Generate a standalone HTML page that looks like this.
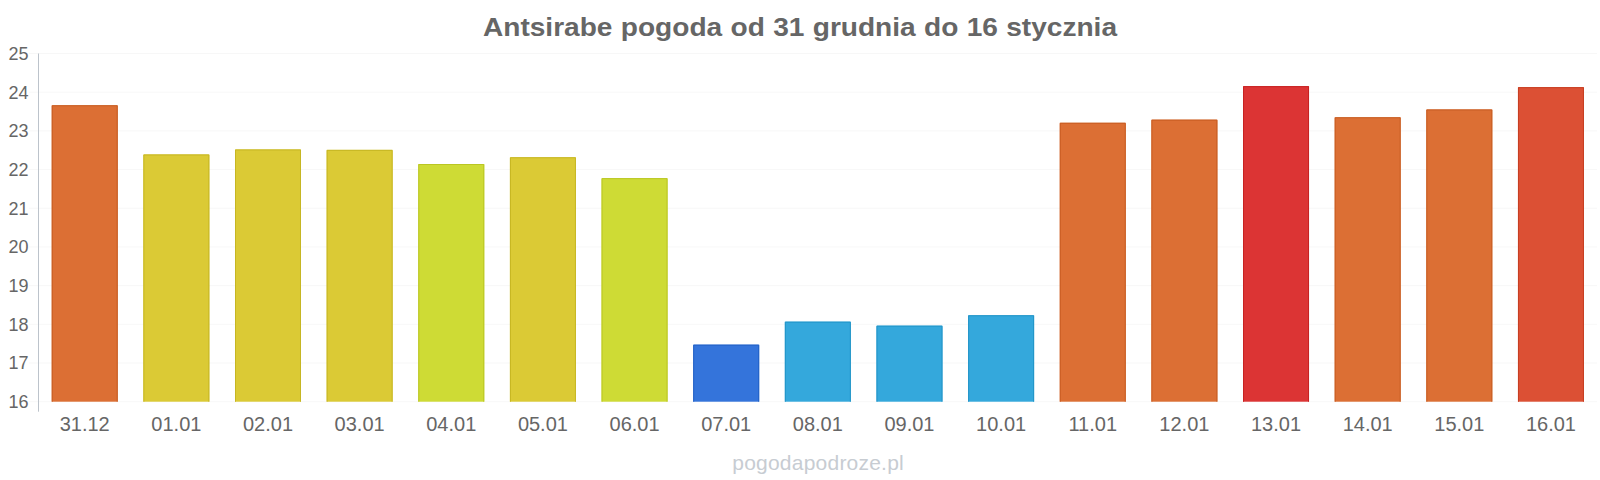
<!DOCTYPE html>
<html><head><meta charset="utf-8"><title>Antsirabe pogoda</title>
<style>
html,body{margin:0;padding:0;background:#fff;}
body{width:1600px;height:480px;overflow:hidden;}
svg{display:block;}
text{font-family:"Liberation Sans",Arial,sans-serif;}
</style></head><body>
<svg width="1600" height="480" viewBox="0 0 1600 480">
<rect width="1600" height="480" fill="#ffffff"/>
<text transform="translate(800 36.2) scale(1.06 1)" x="0" y="0" text-anchor="middle" font-size="26.5" font-weight="bold" fill="#666666" word-spacing="0.5">Antsirabe pogoda od 31 grudnia do 16 stycznia</text>
<line x1="29.5" x2="1597.0" y1="53.50" y2="53.50" stroke="#efefef" stroke-width="1" stroke-dasharray="1,1"/>
<text x="28.6" y="59.90" text-anchor="end" font-size="18" fill="#666666">25</text>
<line x1="29.5" x2="1597.0" y1="92.19" y2="92.19" stroke="#efefef" stroke-width="1" stroke-dasharray="1,1"/>
<text x="28.6" y="98.59" text-anchor="end" font-size="18" fill="#666666">24</text>
<line x1="29.5" x2="1597.0" y1="130.88" y2="130.88" stroke="#efefef" stroke-width="1" stroke-dasharray="1,1"/>
<text x="28.6" y="137.28" text-anchor="end" font-size="18" fill="#666666">23</text>
<line x1="29.5" x2="1597.0" y1="169.57" y2="169.57" stroke="#efefef" stroke-width="1" stroke-dasharray="1,1"/>
<text x="28.6" y="175.97" text-anchor="end" font-size="18" fill="#666666">22</text>
<line x1="29.5" x2="1597.0" y1="208.26" y2="208.26" stroke="#efefef" stroke-width="1" stroke-dasharray="1,1"/>
<text x="28.6" y="214.66" text-anchor="end" font-size="18" fill="#666666">21</text>
<line x1="29.5" x2="1597.0" y1="246.94" y2="246.94" stroke="#efefef" stroke-width="1" stroke-dasharray="1,1"/>
<text x="28.6" y="253.34" text-anchor="end" font-size="18" fill="#666666">20</text>
<line x1="29.5" x2="1597.0" y1="285.63" y2="285.63" stroke="#efefef" stroke-width="1" stroke-dasharray="1,1"/>
<text x="28.6" y="292.03" text-anchor="end" font-size="18" fill="#666666">19</text>
<line x1="29.5" x2="1597.0" y1="324.32" y2="324.32" stroke="#efefef" stroke-width="1" stroke-dasharray="1,1"/>
<text x="28.6" y="330.72" text-anchor="end" font-size="18" fill="#666666">18</text>
<line x1="29.5" x2="1597.0" y1="363.01" y2="363.01" stroke="#efefef" stroke-width="1" stroke-dasharray="1,1"/>
<text x="28.6" y="369.41" text-anchor="end" font-size="18" fill="#666666">17</text>
<line x1="29.5" x2="1597.0" y1="401.70" y2="401.70" stroke="#efefef" stroke-width="1" stroke-dasharray="1,1"/>
<text x="28.6" y="408.10" text-anchor="end" font-size="18" fill="#666666">16</text>
<line x1="38.5" x2="38.5" y1="53.5" y2="411.7" stroke="#bcc3cb" stroke-width="1"/>
<rect x="51.72" y="105.25" width="66.0" height="296.45" fill="#dc6f34"/>
<path d="M52.22 401.70V105.75H117.22V401.70" fill="none" stroke="#c75c22" stroke-width="1"/>
<text x="84.72" y="431" text-anchor="middle" font-size="20" fill="#666666">31.12</text>
<rect x="143.36" y="154.45" width="66.0" height="247.25" fill="#dbca35"/>
<path d="M143.86 401.70V154.95H208.86V401.70" fill="none" stroke="#c6b623" stroke-width="1"/>
<text x="176.36" y="431" text-anchor="middle" font-size="20" fill="#666666">01.01</text>
<rect x="235.00" y="149.45" width="66.0" height="252.25" fill="#dbca35"/>
<path d="M235.50 401.70V149.95H300.50V401.70" fill="none" stroke="#c6b623" stroke-width="1"/>
<text x="268.00" y="431" text-anchor="middle" font-size="20" fill="#666666">02.01</text>
<rect x="326.64" y="149.85" width="66.0" height="251.85" fill="#dbca35"/>
<path d="M327.14 401.70V150.35H392.14V401.70" fill="none" stroke="#c6b623" stroke-width="1"/>
<text x="359.64" y="431" text-anchor="middle" font-size="20" fill="#666666">03.01</text>
<rect x="418.28" y="164.00" width="66.0" height="237.70" fill="#cedb35"/>
<path d="M418.78 401.70V164.50H483.78V401.70" fill="none" stroke="#bac623" stroke-width="1"/>
<text x="451.28" y="431" text-anchor="middle" font-size="20" fill="#666666">04.01</text>
<rect x="509.92" y="157.25" width="66.0" height="244.45" fill="#dbca35"/>
<path d="M510.42 401.70V157.75H575.42V401.70" fill="none" stroke="#c6b623" stroke-width="1"/>
<text x="542.92" y="431" text-anchor="middle" font-size="20" fill="#666666">05.01</text>
<rect x="601.56" y="178.15" width="66.0" height="223.55" fill="#cedb35"/>
<path d="M602.06 401.70V178.65H667.06V401.70" fill="none" stroke="#bac623" stroke-width="1"/>
<text x="634.56" y="431" text-anchor="middle" font-size="20" fill="#666666">06.01</text>
<rect x="693.20" y="344.65" width="66.0" height="57.05" fill="#3474db"/>
<path d="M693.70 401.70V345.15H758.70V401.70" fill="none" stroke="#2361c6" stroke-width="1"/>
<text x="726.20" y="431" text-anchor="middle" font-size="20" fill="#666666">07.01</text>
<rect x="784.84" y="321.65" width="66.0" height="80.05" fill="#34a8dc"/>
<path d="M785.34 401.70V322.15H850.34V401.70" fill="none" stroke="#2294c7" stroke-width="1"/>
<text x="817.84" y="431" text-anchor="middle" font-size="20" fill="#666666">08.01</text>
<rect x="876.48" y="325.65" width="66.0" height="76.05" fill="#34a8dc"/>
<path d="M876.98 401.70V326.15H941.98V401.70" fill="none" stroke="#2294c7" stroke-width="1"/>
<text x="909.48" y="431" text-anchor="middle" font-size="20" fill="#666666">09.01</text>
<rect x="968.12" y="315.25" width="66.0" height="86.45" fill="#34a8dc"/>
<path d="M968.62 401.70V315.75H1033.62V401.70" fill="none" stroke="#2294c7" stroke-width="1"/>
<text x="1001.12" y="431" text-anchor="middle" font-size="20" fill="#666666">10.01</text>
<rect x="1059.76" y="122.75" width="66.0" height="278.95" fill="#dc6f34"/>
<path d="M1060.26 401.70V123.25H1125.26V401.70" fill="none" stroke="#c75c22" stroke-width="1"/>
<text x="1092.76" y="431" text-anchor="middle" font-size="20" fill="#666666">11.01</text>
<rect x="1151.40" y="119.65" width="66.0" height="282.05" fill="#dc6f34"/>
<path d="M1151.90 401.70V120.15H1216.90V401.70" fill="none" stroke="#c75c22" stroke-width="1"/>
<text x="1184.40" y="431" text-anchor="middle" font-size="20" fill="#666666">12.01</text>
<rect x="1243.04" y="86.15" width="66.0" height="315.55" fill="#dc3434"/>
<path d="M1243.54 401.70V86.65H1308.54V401.70" fill="none" stroke="#c72222" stroke-width="1"/>
<text x="1276.04" y="431" text-anchor="middle" font-size="20" fill="#666666">13.01</text>
<rect x="1334.68" y="117.25" width="66.0" height="284.45" fill="#dc6f34"/>
<path d="M1335.18 401.70V117.75H1400.18V401.70" fill="none" stroke="#c75c22" stroke-width="1"/>
<text x="1367.68" y="431" text-anchor="middle" font-size="20" fill="#666666">14.01</text>
<rect x="1426.32" y="109.45" width="66.0" height="292.25" fill="#dc6f34"/>
<path d="M1426.82 401.70V109.95H1491.82V401.70" fill="none" stroke="#c75c22" stroke-width="1"/>
<text x="1459.32" y="431" text-anchor="middle" font-size="20" fill="#666666">15.01</text>
<rect x="1517.96" y="87.15" width="66.0" height="314.55" fill="#dc5034"/>
<path d="M1518.46 401.70V87.65H1583.46V401.70" fill="none" stroke="#c73e22" stroke-width="1"/>
<text x="1550.96" y="431" text-anchor="middle" font-size="20" fill="#666666">16.01</text>
<text x="818" y="469.6" text-anchor="middle" font-size="21" fill="#c7ccd2" textLength="171.5" lengthAdjust="spacing">pogodapodroze.pl</text>
</svg></body></html>
